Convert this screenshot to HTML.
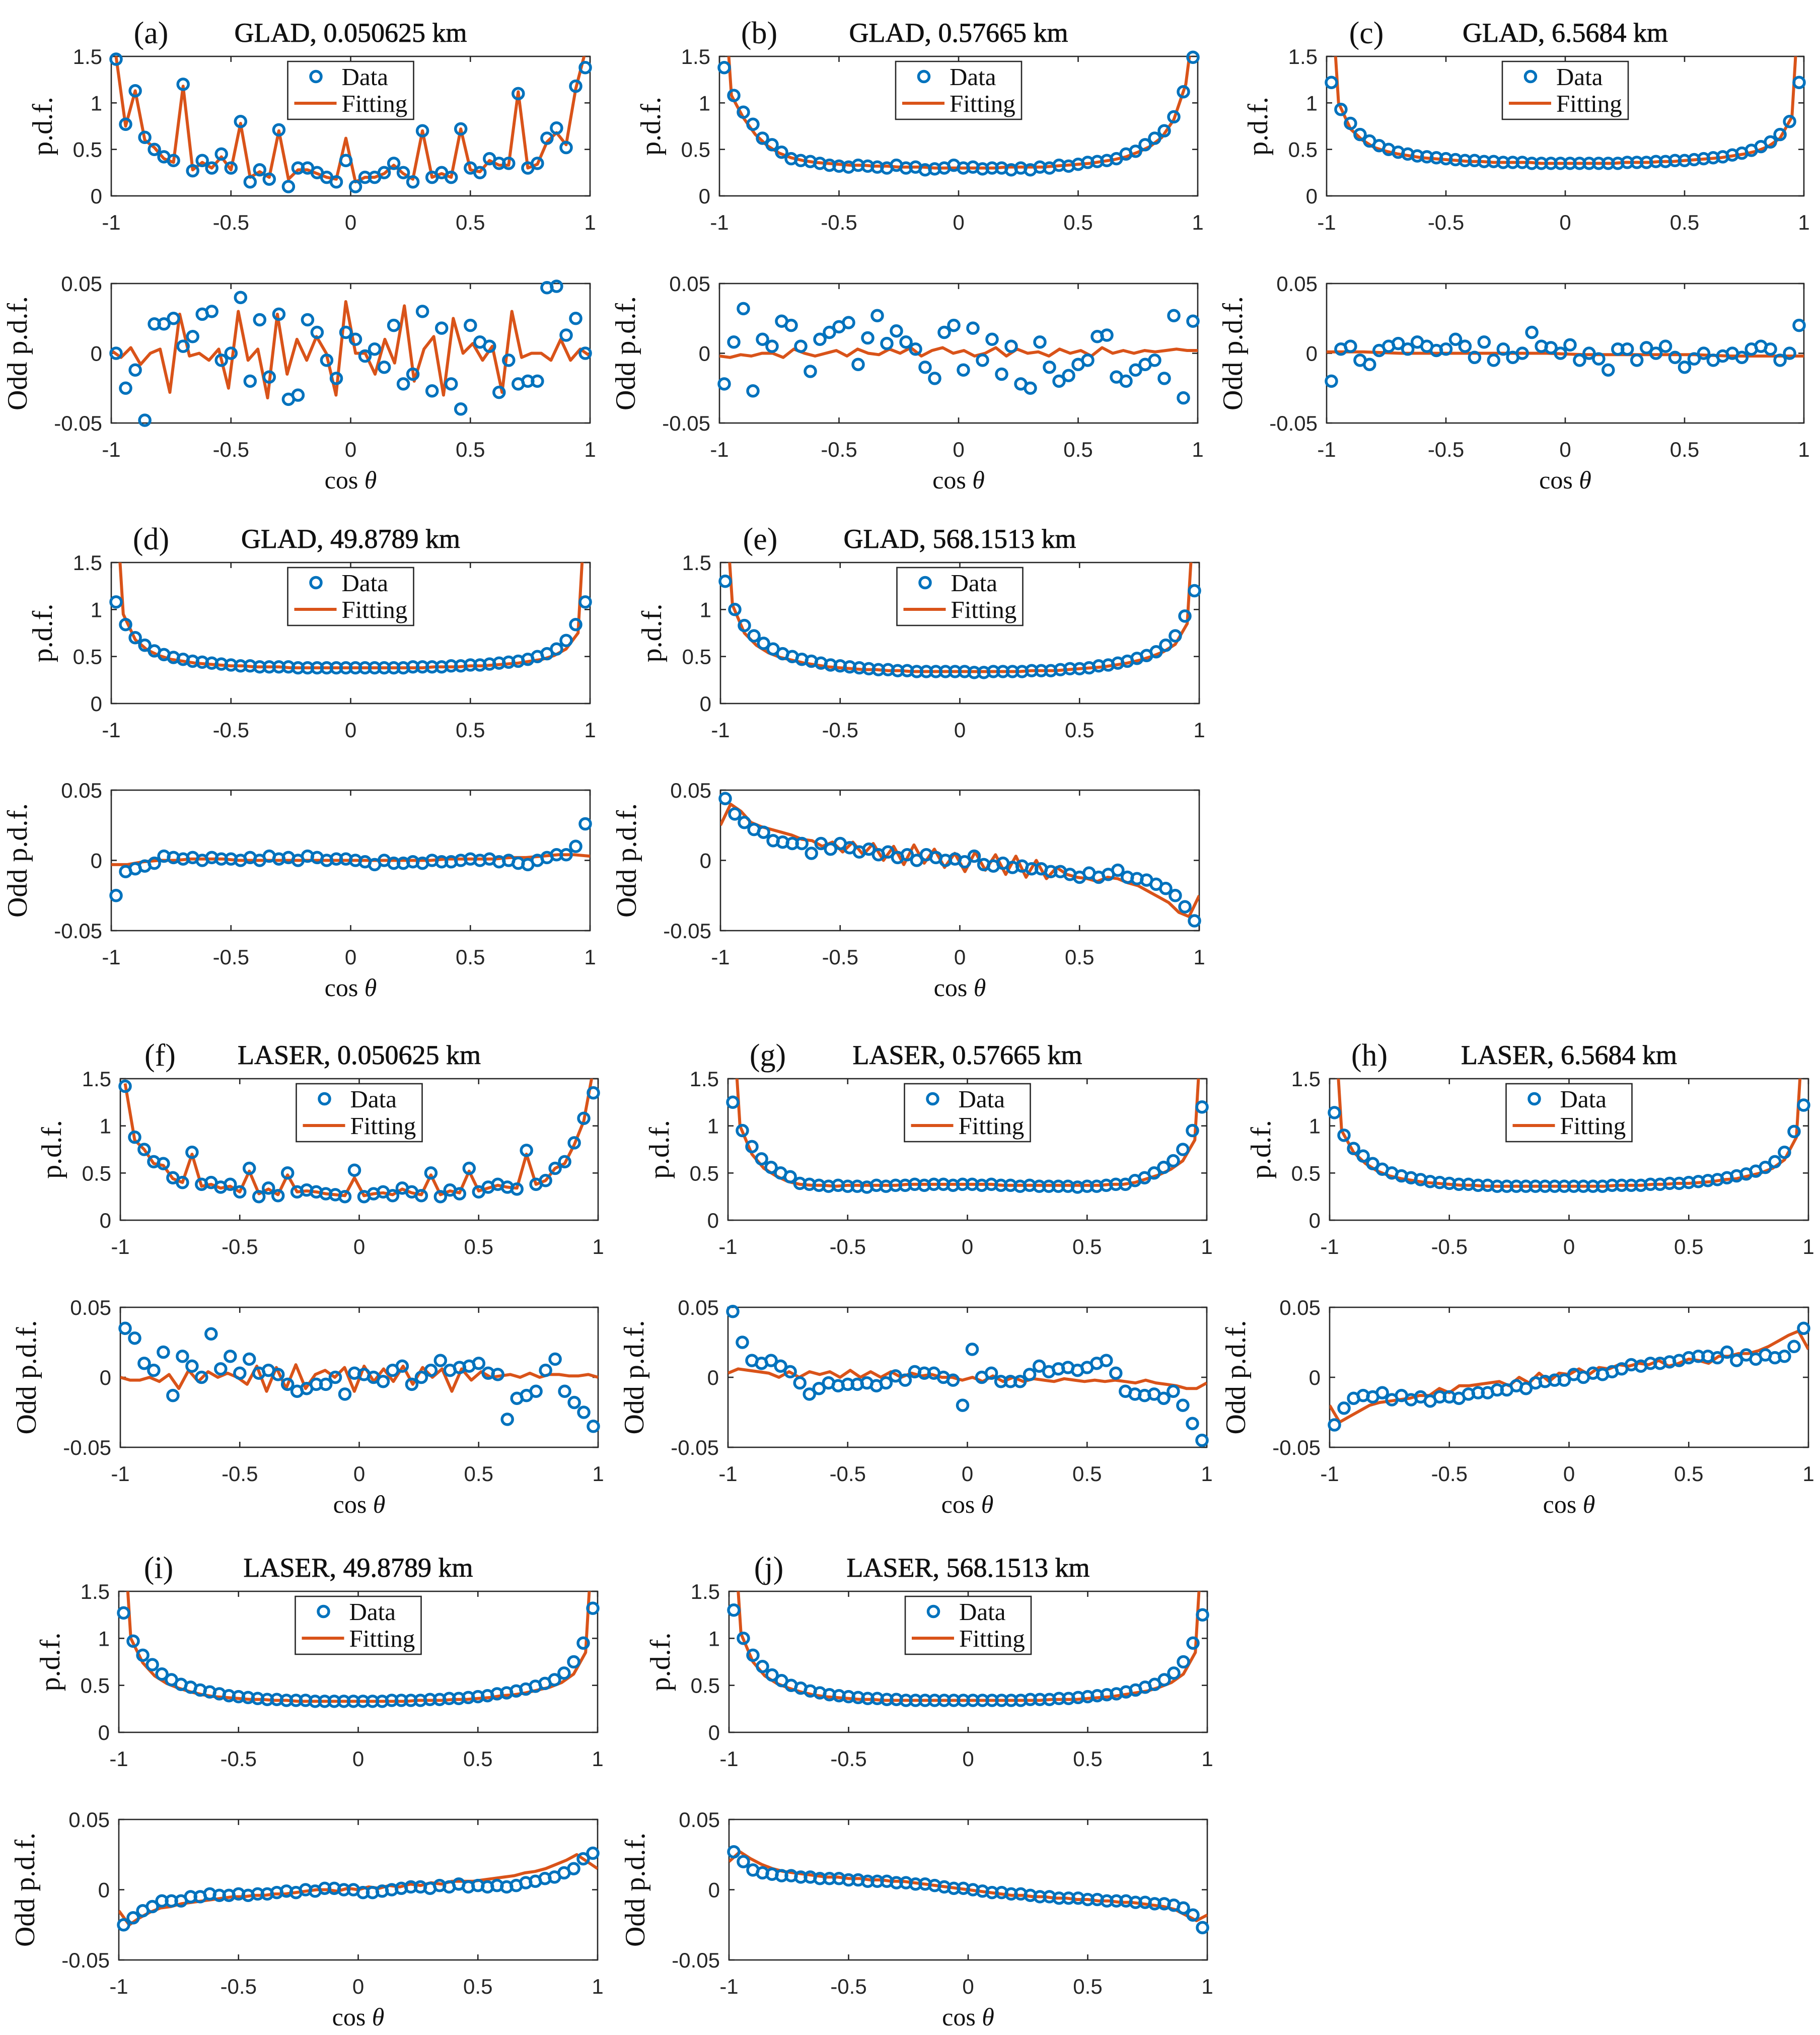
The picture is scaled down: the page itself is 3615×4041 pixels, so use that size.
<!DOCTYPE html>
<html><head><meta charset="utf-8"><title>pdf panels</title>
<style>
html,body{margin:0;padding:0;background:#fff;}
svg{display:block;}
.tick{font-family:"Liberation Sans",sans-serif;font-size:42px;fill:#262626;}
.serif{font-family:"Liberation Serif",serif;fill:#111;}
</style></head>
<body>
<svg id="fig" xmlns="http://www.w3.org/2000/svg" width="3615" height="4041" viewBox="0 0 3615 4041"></svg>
<script>
// ---- data arrays (data on grid -0.98..0.98, fit on grid -1..1 unless flagged) ----
const xTicks = [-1, -0.5, 0, 0.5, 1];
const xTickLabels = ["-1", "-0.5", "0", "0.5", "1"];
const pdfTicks = [0, 0.5, 1, 1.5];
const pdfTickLabels = ["0", "0.5", "1", "1.5"];
const oddTicks = [-0.05, 0, 0.05];
const oddTickLabels = ["-0.05", "0", "0.05"];

const pdfDataA = [1.47,0.77,1.13,0.63,0.5,0.42,0.38,1.2,0.27,0.38,0.3,0.45,0.3,0.8,0.15,0.28,0.18,0.71,0.1,0.3,0.3,0.25,0.2,0.15,0.38,0.1,0.2,0.2,0.25,0.35,0.25,0.15,0.7,0.2,0.25,0.2,0.72,0.3,0.25,0.4,0.35,0.35,1.1,0.3,0.35,0.62,0.73,0.52,1.18,1.38];
const pdfFitA = [1.5,0.75,1.13,0.6,0.52,0.4,0.36,1.18,0.28,0.36,0.3,0.42,0.28,0.78,0.2,0.26,0.2,0.7,0.18,0.28,0.28,0.24,0.2,0.18,0.62,0.15,0.2,0.2,0.24,0.33,0.24,0.18,0.7,0.2,0.24,0.2,0.72,0.28,0.26,0.38,0.33,0.33,1.12,0.3,0.34,0.58,0.68,0.55,1.15,1.55];
const oddDataA = [0.0,-0.025,-0.012,-0.048,0.021,0.021,0.025,0.005,0.012,0.028,0.03,-0.005,0.0,0.04,-0.02,0.024,-0.017,0.028,-0.033,-0.03,0.024,0.015,-0.005,-0.018,0.015,0.01,-0.002,0.003,-0.01,0.02,-0.022,-0.015,0.03,-0.027,0.018,-0.022,-0.04,0.02,0.008,0.005,-0.028,-0.005,-0.022,-0.02,-0.02,0.047,0.048,0.013,0.025,0.0];
const oddFitA = [0.002,-0.003,0.004,-0.008,0.0,0.003,-0.028,0.028,-0.002,0.0,-0.005,0.003,-0.025,0.03,-0.005,0.003,-0.032,0.028,-0.015,0.01,-0.005,0.012,0.0,-0.03,0.037,0.0,0.0,-0.015,0.01,-0.007,0.034,-0.02,0.003,0.012,-0.03,0.025,0.0,0.007,-0.005,0.005,-0.028,0.03,-0.003,0.0,0.0,-0.005,0.01,-0.005,0.003,-0.002];

const pdfDataB = [1.38,1.08,0.9,0.77,0.62,0.55,0.47,0.4,0.38,0.37,0.35,0.33,0.32,0.31,0.33,0.32,0.31,0.3,0.33,0.3,0.31,0.28,0.29,0.3,0.33,0.3,0.31,0.29,0.3,0.3,0.28,0.3,0.28,0.31,0.3,0.33,0.32,0.34,0.36,0.37,0.38,0.4,0.45,0.48,0.55,0.62,0.7,0.85,1.12,1.49];
const pdfFitB = [3,1.08,0.84,0.66,0.54,0.46,0.41,0.38,0.36,0.35,0.34,0.33,0.33,0.32,0.32,0.31,0.31,0.31,0.3,0.3,0.3,0.3,0.3,0.3,0.31,0.31,0.31,0.31,0.32,0.33,0.34,0.35,0.37,0.39,0.42,0.47,0.53,0.63,0.82,1.2,2.2];
const oddDataB = [-0.022,0.008,0.032,-0.027,0.01,0.005,0.023,0.02,0.005,-0.013,0.01,0.015,0.019,0.022,-0.008,0.011,0.027,0.007,0.016,0.008,0.003,-0.01,-0.018,0.015,0.02,-0.012,0.018,-0.005,0.01,-0.015,0.005,-0.022,-0.025,0.008,-0.01,-0.02,-0.016,-0.008,-0.005,0.012,0.013,-0.017,-0.02,-0.012,-0.008,-0.005,-0.018,0.027,-0.032,0.023];
const oddFitB = [-0.002,-0.003,-0.001,-0.002,0.0,0.0,-0.003,0.003,0.0,-0.002,0.0,0.002,-0.002,0.003,0.0,-0.001,0.003,0.0,0.004,-0.002,0.002,0.004,0.0,0.002,-0.002,0.0,0.004,-0.002,0.003,0.0,0.001,-0.002,0.003,0.0,0.002,-0.002,0.004,0.0,0.002,0.0,0.002,0.001,0.002,0.003,0.002,0.002];

const pdfDataC = [1.22,0.93,0.78,0.66,0.59,0.54,0.5,0.47,0.45,0.43,0.42,0.41,0.4,0.39,0.38,0.38,0.37,0.37,0.36,0.36,0.36,0.35,0.35,0.35,0.35,0.35,0.35,0.35,0.35,0.35,0.35,0.36,0.36,0.36,0.37,0.37,0.38,0.38,0.39,0.4,0.41,0.42,0.44,0.46,0.49,0.53,0.58,0.66,0.8,1.22];
const pdfFitC = [3,1.0,0.72,0.6,0.52,0.48,0.45,0.43,0.41,0.4,0.39,0.38,0.37,0.37,0.36,0.36,0.36,0.36,0.35,0.35,0.35,0.35,0.35,0.35,0.35,0.36,0.36,0.36,0.37,0.37,0.38,0.39,0.4,0.41,0.43,0.45,0.48,0.53,0.62,0.85,3];
const oddDataC = [-0.02,0.003,0.005,-0.005,-0.008,0.002,0.005,0.007,0.003,0.008,0.005,0.002,0.003,0.01,0.005,-0.003,0.008,-0.005,0.003,-0.003,0.0,0.015,0.005,0.004,0.0,0.006,-0.005,0.0,-0.004,-0.012,0.003,0.003,-0.005,0.004,0.0,0.005,-0.003,-0.01,-0.004,0.0,-0.005,-0.002,0.0,-0.003,0.003,0.005,0.003,-0.005,0.0,0.02];
const oddFitC = [0.001,0.001,0.0,0.0,0.0,0.0,0.0,-0.001,-0.001,-0.001,-0.001,-0.002,-0.002,-0.002];

const pdfDataD = [1.08,0.84,0.7,0.62,0.56,0.52,0.49,0.47,0.45,0.44,0.43,0.42,0.41,0.4,0.4,0.39,0.39,0.39,0.39,0.38,0.38,0.38,0.38,0.38,0.38,0.38,0.38,0.38,0.38,0.38,0.38,0.39,0.39,0.39,0.39,0.4,0.4,0.41,0.41,0.42,0.43,0.44,0.45,0.47,0.5,0.53,0.58,0.67,0.84,1.08];
const pdfFitD = [3,0.95,0.68,0.57,0.51,0.47,0.45,0.43,0.42,0.41,0.4,0.4,0.39,0.39,0.39,0.38,0.38,0.38,0.38,0.38,0.38,0.38,0.38,0.38,0.38,0.38,0.38,0.39,0.39,0.39,0.4,0.4,0.41,0.42,0.43,0.45,0.47,0.51,0.58,0.75,3];
const oddDataD = [-0.025,-0.008,-0.006,-0.004,-0.002,0.003,0.002,0.001,0.002,0.0,0.002,0.001,0.001,0.0,0.002,0.0,0.003,0.001,0.002,0.0,0.003,0.002,0.0,0.001,0.001,0.0,-0.001,-0.003,0.0,-0.002,-0.002,-0.001,-0.002,0.0,-0.001,-0.001,0.0,0.001,0.0,0.001,-0.001,0.0,-0.002,-0.003,0.0,0.002,0.004,0.004,0.01,0.026];
const oddFitD = [-0.003,-0.003,-0.001,0.0,0.0,0.001,0.001,0.001,0.0,0.0,0.0,0.0,0.0,0.0,0.0,0.0,0.0,0.0,0.0,0.0,0.0,0.001,0.001,0.001,0.001,0.002,0.002,0.003,0.004,0.004,0.003];

const pdfDataE = [1.3,1.0,0.83,0.72,0.64,0.58,0.53,0.5,0.47,0.45,0.43,0.41,0.4,0.39,0.38,0.37,0.36,0.36,0.35,0.35,0.34,0.34,0.34,0.34,0.34,0.34,0.33,0.33,0.34,0.34,0.34,0.34,0.35,0.35,0.35,0.36,0.37,0.37,0.38,0.4,0.41,0.43,0.45,0.48,0.51,0.55,0.62,0.72,0.93,1.2];
const pdfFitE = [3,1.05,0.75,0.62,0.54,0.49,0.46,0.43,0.41,0.39,0.38,0.37,0.36,0.36,0.35,0.35,0.34,0.34,0.34,0.34,0.34,0.34,0.34,0.34,0.34,0.34,0.35,0.35,0.35,0.36,0.37,0.38,0.39,0.41,0.43,0.46,0.5,0.55,0.63,0.85,3];
const oddDataE = [0.044,0.033,0.027,0.022,0.02,0.014,0.013,0.012,0.012,0.005,0.012,0.008,0.012,0.009,0.006,0.008,0.004,0.006,0.002,0.004,0.0,0.004,0.002,0.0,0.001,-0.001,0.003,-0.003,-0.004,-0.002,-0.005,-0.004,-0.006,-0.006,-0.008,-0.008,-0.01,-0.012,-0.009,-0.012,-0.01,-0.007,-0.012,-0.013,-0.014,-0.017,-0.02,-0.025,-0.033,-0.043];
const oddFitE = [0.025,0.04,0.035,0.027,0.024,0.022,0.02,0.018,0.015,0.014,0.01,0.013,0.006,0.013,0.004,0.012,0.0,0.01,-0.003,0.011,-0.002,0.008,-0.005,0.005,-0.008,0.006,-0.007,0.004,-0.01,0.003,-0.012,0.0,-0.013,-0.005,-0.01,-0.012,-0.013,-0.015,-0.012,-0.013,-0.016,-0.018,-0.022,-0.026,-0.03,-0.037,-0.04,-0.025];

const pdfDataF = [1.42,0.88,0.75,0.62,0.6,0.45,0.4,0.72,0.38,0.4,0.35,0.38,0.3,0.55,0.25,0.34,0.26,0.5,0.3,0.32,0.3,0.28,0.27,0.25,0.53,0.25,0.28,0.3,0.26,0.34,0.3,0.26,0.5,0.25,0.32,0.28,0.55,0.3,0.35,0.38,0.35,0.33,0.74,0.38,0.42,0.55,0.62,0.82,1.08,1.35];
const pdfFitF = [1.45,0.85,0.75,0.6,0.58,0.44,0.4,0.7,0.36,0.38,0.34,0.36,0.3,0.52,0.28,0.33,0.27,0.48,0.3,0.31,0.3,0.28,0.27,0.26,0.45,0.26,0.28,0.29,0.27,0.33,0.29,0.27,0.48,0.27,0.31,0.29,0.52,0.31,0.34,0.37,0.35,0.34,0.7,0.38,0.42,0.55,0.6,0.8,1.05,1.6];
const oddDataF = [0.035,0.028,0.01,0.005,0.018,-0.013,0.015,0.008,0.0,0.031,0.006,0.015,0.003,0.013,0.003,0.005,0.002,-0.005,-0.01,-0.008,-0.005,-0.005,0.0,-0.012,0.003,0.002,0.0,-0.003,0.005,0.008,-0.005,0.0,0.005,0.012,0.005,0.007,0.008,0.01,0.003,0.002,-0.03,-0.015,-0.013,-0.01,0.005,0.013,-0.01,-0.018,-0.025,-0.035];
const oddFitF = [0.0,-0.002,-0.002,0.0,-0.003,0.002,-0.008,0.005,-0.003,0.004,0.0,0.003,0.0,-0.005,0.008,-0.01,0.007,-0.008,0.009,-0.008,0.002,0.005,0.0,0.007,-0.01,0.008,-0.003,0.006,-0.003,0.008,-0.005,0.007,0.0,0.006,-0.01,0.006,-0.002,0.004,0.0,0.001,0.002,0.0,0.003,0.0,0.002,0.002,0.001,0.001,0.002,0.0];

const pdfDataG = [1.25,0.95,0.78,0.65,0.56,0.5,0.46,0.39,0.38,0.37,0.36,0.37,0.36,0.36,0.35,0.37,0.36,0.37,0.37,0.38,0.37,0.38,0.38,0.37,0.38,0.38,0.37,0.38,0.37,0.37,0.36,0.37,0.36,0.36,0.36,0.36,0.35,0.36,0.36,0.37,0.38,0.38,0.42,0.45,0.5,0.56,0.63,0.75,0.95,1.2];
const pdfFitG = [3,1.0,0.7,0.55,0.47,0.41,0.38,0.37,0.37,0.36,0.37,0.37,0.37,0.37,0.37,0.38,0.38,0.38,0.38,0.38,0.38,0.38,0.38,0.37,0.37,0.37,0.37,0.37,0.37,0.37,0.37,0.37,0.38,0.38,0.4,0.44,0.48,0.54,0.63,0.85,3];
const oddDataG = [0.047,0.025,0.012,0.01,0.012,0.008,0.004,-0.004,-0.012,-0.008,-0.004,-0.006,-0.005,-0.005,-0.004,-0.006,-0.004,0.001,-0.002,0.004,0.003,0.003,0.0,-0.002,-0.02,0.02,0.0,0.003,-0.003,-0.003,-0.003,0.002,0.008,0.004,0.006,0.007,0.005,0.007,0.01,0.012,0.003,-0.01,-0.012,-0.013,-0.012,-0.015,-0.01,-0.02,-0.033,-0.045];
const oddFitG = [0.003,0.006,0.005,0.004,0.003,0.0,0.004,0.0,0.004,0.002,0.004,0.0,0.005,0.0,0.004,0.0,0.004,0.0,0.003,0.001,0.002,0.0,0.0,-0.002,0.0,-0.003,0.001,-0.003,0.0,-0.003,-0.001,-0.002,-0.003,-0.001,-0.002,-0.003,-0.002,-0.003,-0.002,-0.003,-0.004,-0.002,-0.004,-0.005,-0.006,-0.008,-0.008,-0.004];

const pdfDataH = [1.14,0.9,0.76,0.68,0.6,0.54,0.5,0.47,0.45,0.43,0.41,0.4,0.39,0.38,0.38,0.37,0.37,0.36,0.36,0.36,0.36,0.36,0.36,0.36,0.36,0.36,0.36,0.36,0.36,0.37,0.37,0.37,0.37,0.38,0.38,0.39,0.39,0.4,0.41,0.42,0.43,0.45,0.47,0.49,0.52,0.56,0.62,0.72,0.94,1.22];
const pdfFitH = [3,0.95,0.72,0.6,0.52,0.47,0.44,0.42,0.4,0.39,0.38,0.37,0.37,0.36,0.36,0.36,0.36,0.36,0.36,0.36,0.36,0.36,0.36,0.36,0.37,0.37,0.37,0.38,0.38,0.39,0.39,0.4,0.41,0.43,0.44,0.47,0.5,0.55,0.64,0.88,3];
const oddDataH = [-0.034,-0.022,-0.015,-0.013,-0.014,-0.011,-0.016,-0.013,-0.016,-0.014,-0.017,-0.014,-0.014,-0.015,-0.012,-0.011,-0.011,-0.009,-0.009,-0.006,-0.008,-0.004,-0.003,-0.002,-0.002,0.002,0.0,0.003,0.002,0.004,0.006,0.009,0.008,0.01,0.01,0.011,0.012,0.014,0.015,0.015,0.014,0.018,0.012,0.016,0.013,0.016,0.014,0.015,0.022,0.035];
const oddFitH = [-0.02,-0.032,-0.028,-0.024,-0.02,-0.018,-0.017,-0.016,-0.015,-0.013,-0.013,-0.008,-0.011,-0.006,-0.006,-0.005,-0.004,-0.003,-0.006,0.0,-0.004,0.003,-0.003,0.003,0.002,0.006,0.002,0.007,0.006,0.009,0.008,0.01,0.009,0.012,0.008,0.01,0.013,0.012,0.01,0.015,0.015,0.017,0.017,0.019,0.022,0.026,0.03,0.033,0.02];

const pdfDataI = [1.27,0.97,0.82,0.72,0.62,0.56,0.51,0.48,0.45,0.43,0.41,0.39,0.38,0.37,0.36,0.35,0.35,0.34,0.34,0.34,0.33,0.33,0.33,0.33,0.33,0.33,0.33,0.33,0.34,0.34,0.34,0.34,0.35,0.35,0.36,0.36,0.37,0.38,0.39,0.41,0.42,0.44,0.46,0.49,0.52,0.56,0.63,0.75,0.95,1.32];
const pdfFitI = [3,1.0,0.74,0.6,0.52,0.47,0.43,0.4,0.38,0.37,0.36,0.35,0.35,0.34,0.34,0.33,0.33,0.33,0.33,0.33,0.33,0.33,0.33,0.33,0.33,0.34,0.34,0.34,0.35,0.35,0.36,0.37,0.39,0.4,0.42,0.45,0.48,0.53,0.62,0.85,3];
const oddDataI = [-0.025,-0.02,-0.015,-0.012,-0.008,-0.008,-0.008,-0.005,-0.005,-0.003,-0.004,-0.004,-0.003,-0.004,-0.003,-0.003,-0.002,-0.001,-0.002,0.0,-0.001,0.001,0.001,0.0,0.0,-0.002,-0.002,-0.001,0.0,0.001,0.002,0.002,0.001,0.003,0.002,0.004,0.002,0.003,0.002,0.003,0.002,0.003,0.005,0.006,0.008,0.009,0.012,0.015,0.022,0.026];
const oddFitI = [-0.015,-0.025,-0.02,-0.016,-0.013,-0.012,-0.01,-0.009,-0.008,-0.007,-0.006,-0.005,-0.005,-0.004,-0.004,-0.003,-0.003,-0.002,-0.001,0.0,0.0,-0.001,0.001,0.0,0.002,0.001,0.003,0.002,0.004,0.003,0.005,0.004,0.006,0.006,0.006,0.007,0.008,0.009,0.01,0.012,0.013,0.015,0.018,0.021,0.025,0.02,0.015];

const pdfDataJ = [1.3,1.0,0.82,0.7,0.61,0.55,0.5,0.47,0.44,0.42,0.4,0.39,0.38,0.37,0.36,0.36,0.35,0.35,0.34,0.34,0.34,0.34,0.34,0.34,0.34,0.34,0.34,0.34,0.34,0.34,0.34,0.35,0.35,0.35,0.36,0.36,0.37,0.38,0.39,0.4,0.41,0.43,0.45,0.48,0.51,0.56,0.63,0.75,0.95,1.25];
const pdfFitJ = [3,1.05,0.75,0.6,0.52,0.47,0.43,0.4,0.38,0.37,0.36,0.35,0.35,0.34,0.34,0.34,0.34,0.34,0.34,0.34,0.34,0.34,0.34,0.34,0.34,0.34,0.34,0.35,0.35,0.35,0.36,0.37,0.38,0.4,0.42,0.44,0.48,0.53,0.62,0.85,3];
const oddDataJ = [0.027,0.02,0.014,0.012,0.011,0.01,0.01,0.009,0.009,0.008,0.008,0.008,0.007,0.007,0.006,0.006,0.006,0.005,0.005,0.004,0.004,0.003,0.002,0.001,0.001,0.0,-0.001,-0.002,-0.002,-0.003,-0.003,-0.004,-0.005,-0.005,-0.006,-0.006,-0.006,-0.007,-0.007,-0.008,-0.008,-0.008,-0.009,-0.009,-0.01,-0.01,-0.011,-0.013,-0.018,-0.027];
const oddFitJ = [0.02,0.027,0.022,0.018,0.015,0.013,0.012,0.011,0.01,0.009,0.009,0.008,0.008,0.007,0.007,0.006,0.006,0.005,0.004,0.003,0.002,0.001,0.0,-0.001,-0.002,-0.003,-0.004,-0.004,-0.005,-0.005,-0.006,-0.006,-0.007,-0.007,-0.008,-0.008,-0.009,-0.009,-0.01,-0.011,-0.012,-0.014,-0.018,-0.022,-0.018];

// ---- layout ----
const NS = "http://www.w3.org/2000/svg";
const svg = document.getElementById("fig");
const BLUE = "#0072BD", RED = "#D95319", AX = "#262626";

const rows = [
  {pt:112, pb:389, ot:563, ob:840},
  {pt:1117, pb:1397, ot:1569, ob:1848},
  {pt:2142, pb:2423, ot:2596, ob:2874},
  {pt:3160, pb:3440, ot:3613, ob:3892}
];
const panels = [
  {id:"a", title:"GLAD, 0.050625 km", x0:221, x1:1172, row:0, pd:pdfDataA, pf:pdfFitA, od:oddDataA, of:oddFitA, pfOnData:true},
  {id:"b", title:"GLAD, 0.57665 km", x0:1429, x1:2379, row:0, pd:pdfDataB, pf:pdfFitB, od:oddDataB, of:oddFitB},
  {id:"c", title:"GLAD, 6.5684 km", x0:2635, x1:3583, row:0, pd:pdfDataC, pf:pdfFitC, od:oddDataC, of:oddFitC},
  {id:"d", title:"GLAD, 49.8789 km", x0:221, x1:1172, row:1, pd:pdfDataD, pf:pdfFitD, od:oddDataD, of:oddFitD},
  {id:"e", title:"GLAD, 568.1513 km", x0:1431, x1:2382, row:1, pd:pdfDataE, pf:pdfFitE, od:oddDataE, of:oddFitE},
  {id:"f", title:"LASER, 0.050625 km", x0:239, x1:1188, row:2, pd:pdfDataF, pf:pdfFitF, od:oddDataF, of:oddFitF, pfOnData:true},
  {id:"g", title:"LASER, 0.57665 km", x0:1446, x1:2397, row:2, pd:pdfDataG, pf:pdfFitG, od:oddDataG, of:oddFitG},
  {id:"h", title:"LASER, 6.5684 km", x0:2641, x1:3592, row:2, pd:pdfDataH, pf:pdfFitH, od:oddDataH, of:oddFitH},
  {id:"i", title:"LASER, 49.8789 km", x0:236, x1:1187, row:3, pd:pdfDataI, pf:pdfFitI, od:oddDataI, of:oddFitI},
  {id:"j", title:"LASER, 568.1513 km", x0:1448, x1:2398, row:3, pd:pdfDataJ, pf:pdfFitJ, od:oddDataJ, of:oddFitJ}
];

function mk(tag, attrs, parent) {
  const e = document.createElementNS(NS, tag);
  for (const k in attrs) e.setAttribute(k, attrs[k]);
  (parent || svg).appendChild(e);
  return e;
}
function dataGrid(n) { const a = []; for (let i = 0; i < n; i++) a.push(-0.98 + 1.96 * i / (n - 1)); return a; }
function fitGrid(n) { const a = []; for (let i = 0; i < n; i++) a.push(-1 + 2 * i / (n - 1)); return a; }

function drawAxes(p, top, bot, ymin, ymax, yt, ytl, ylabel, ylabOff, kind, withXLabel) {
  const g = mk("g", {});
  
  
  const sx = v => p.x0 + (v + 1) / 2 * (p.x1 - p.x0);
  const sy = v => bot - (v - ymin) / (ymax - ymin) * (bot - top);
  const clipId = "clip-" + kind + p.id;
  const cp = mk("clipPath", {id: clipId}, g);
  mk("rect", {x:p.x0, y:top, width:p.x1 - p.x0, height:bot - top}, cp);
  const box = mk("rect", {x:p.x0, y:top, width:p.x1 - p.x0, height:bot - top, fill:"none", stroke:AX, "stroke-width":2.6}, g);
  
  
  xTicks.forEach((t, i) => {
    const x = sx(t);
    mk("line", {x1:x, y1:bot, x2:x, y2:bot - 11, stroke:AX, "stroke-width":2.6}, g);
    mk("line", {x1:x, y1:top, x2:x, y2:top + 11, stroke:AX, "stroke-width":2.6}, g);
    const tx = mk("text", {x:x, y:bot + 67, "text-anchor":"middle", class:"tick"}, g);
    tx.textContent = xTickLabels[i];
    
    
  });
  yt.forEach((t, i) => {
    const y = sy(t);
    mk("line", {x1:p.x0, y1:y, x2:p.x0 + 11, y2:y, stroke:AX, "stroke-width":2.6}, g);
    mk("line", {x1:p.x1, y1:y, x2:p.x1 - 11, y2:y, stroke:AX, "stroke-width":2.6}, g);
    const tx = mk("text", {x:p.x0 - 18, y:y + 15, "text-anchor":"end", class:"tick"}, g);
    tx.textContent = ytl[i];
    
    
  });
  const yl = mk("text", {x:0, y:0, "text-anchor":"middle", class:"serif", "font-size":56,
    transform:"translate(" + (p.x0 - ylabOff) + "," + ((top + bot) / 2) + ") rotate(-90)"}, g);
  yl.textContent = ylabel;
  
  
  if (withXLabel) {
    const xl = mk("text", {x:(p.x0 + p.x1) / 2, y:bot + 130, "text-anchor":"middle", class:"serif", "font-size":50}, g);
    xl.innerHTML = 'cos <tspan font-style="italic">θ</tspan>';
    
    
  }
  return {g, sx, sy, clipId};
}

function drawSeries(ax, data, fit, fitOnData, kind, id) {
  const fx = fitOnData ? dataGrid(fit.length) : fitGrid(fit.length);
  const pts = fit.map((v, i) => ax.sx(fx[i]).toFixed(1) + "," + ax.sy(v).toFixed(1)).join(" ");
  const line = mk("polyline", {points:pts, fill:"none", stroke:RED, "stroke-width":6, "stroke-linejoin":"round", "clip-path":"url(#" + ax.clipId + ")"}, ax.g);
  
  
  const dx = dataGrid(data.length);
  const mg = mk("g", {}, ax.g);
  
  
  data.forEach((v, i) => {
    const c = mk("circle", {cx:ax.sx(dx[i]).toFixed(1), cy:ax.sy(v).toFixed(1), r:10.5, fill:"none", stroke:BLUE, "stroke-width":5.5}, mg);
    
    
  });
}

function drawLegend(p, top) {
  const cx = (p.x0 + p.x1) / 2, L = cx - 125, T = top + 10;
  const g = mk("g", {});
  
  
  mk("rect", {x:L, y:T, width:250, height:115, fill:"#fff", stroke:AX, "stroke-width":2.6}, g);
  const c = mk("circle", {cx:L + 56, cy:T + 30, r:10.5, fill:"none", stroke:BLUE, "stroke-width":5.5}, g);
  
  
  const t1 = mk("text", {x:L + 107, y:T + 47, class:"serif", "font-size":49}, g);
  t1.textContent = "Data";
  
  
  const ln = mk("line", {x1:L + 13, y1:T + 83, x2:L + 97, y2:T + 83, stroke:RED, "stroke-width":6}, g);
  
  
  const t2 = mk("text", {x:L + 107, y:T + 100, class:"serif", "font-size":49}, g);
  t2.textContent = "Fitting";
  
  
}

panels.forEach(p => {
  const r = rows[p.row];
  const cx = (p.x0 + p.x1) / 2;
  const lab = mk("text", {x:p.x0 + 79, y:r.pt - 26, "text-anchor":"middle", class:"serif", "font-size":62});
  lab.textContent = "(" + p.id + ")";
  
  
  const tt = mk("text", {x:cx, y:r.pt - 29, "text-anchor":"middle", class:"serif", "font-size":54, "stroke":"#111", "stroke-width":0.8});
  tt.textContent = p.title;
  
  
  const a1 = drawAxes(p, r.pt, r.pb, 0, 1.5, pdfTicks, pdfTickLabels, "p.d.f.", 118, "pdf", false);
  drawSeries(a1, p.pd, p.pf, !!p.pfOnData, "pdf", p.id);
  drawLegend(p, r.pt);
  const a2 = drawAxes(p, r.ot, r.ob, -0.05, 0.05, oddTicks, oddTickLabels, "Odd p.d.f.", 168, "odd", true);
  drawSeries(a2, p.od, p.of, false, "odd", p.id);
});
</script>
</body></html>
